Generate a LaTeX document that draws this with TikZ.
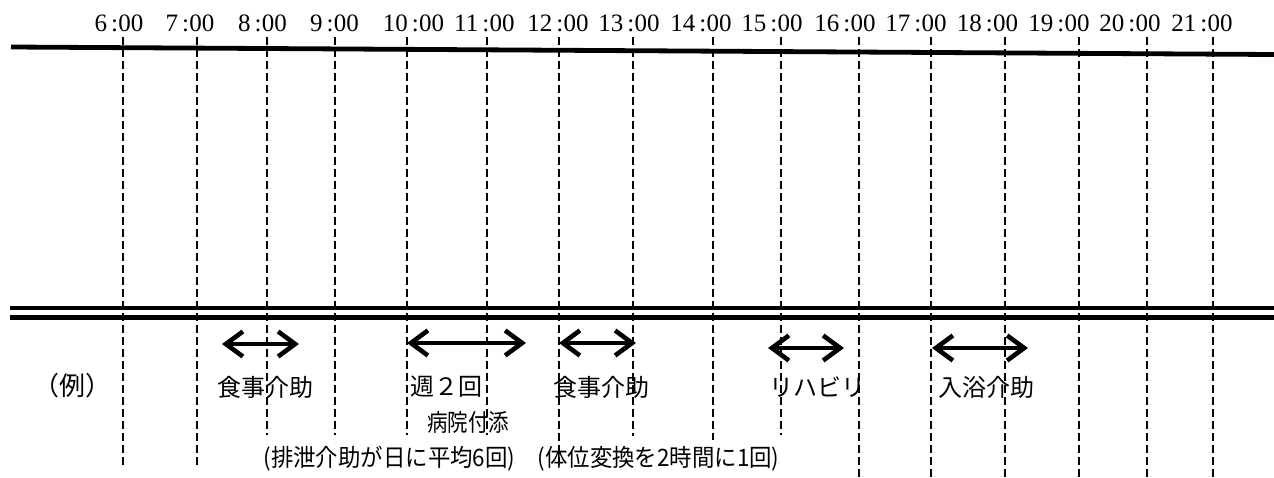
\documentclass[tikz,border=0pt]{standalone}
\usepackage{fontspec}
\usepackage{graphicx}
\usetikzlibrary{arrows.meta}
\newfontfamily\cjk{Noto Sans CJK JP}
\newfontfamily\tfont{Liberation Serif}
\begin{document}
\begin{tikzpicture}[x=1pt,y=-1pt,
  vline/.style={line width=2pt, dash pattern=on 7.5pt off 4.5pt},
  cjklabel/.style={font=\cjk\fontsize{24pt}{28pt}\selectfont, inner sep=0pt},
  timelabel/.style={font=\tfont\fontsize{25pt}{29pt}\selectfont, inner sep=0pt, anchor=base},
  span/.style={line width=4.2pt, line join=round, line cap=round,
    {Straight Barb[length=17pt,width=25pt,line width=4.6pt]}-{Straight Barb[length=17pt,width=25pt,line width=4.6pt]}},
  thickline/.style={line width=4.8pt}
]
\useasboundingbox (0,0) rectangle (1274,477);

% time labels
\foreach \n/\cx in {6/119, 7/190, 8/262.5, 9/334.5, 10/413.5, 11/484.5, 12/558, 13/629, 14/701, 15/772, 16/845, 17/916, 18/987.5, 19/1059, 20/1130, 21/1202}{
  \node[timelabel] (t\n) at (\cx,31.5) {\n\kern4pt:\kern0.5pt00};
}

% top line
\coordinate (tl) at (11,47);
\coordinate (tr) at (1274,54.5);
\draw[thickline] (tl) -- (tr);

% double line
\coordinate (d1l) at (10,308.3);
\coordinate (d1r) at (1274,308.3);
\coordinate (d2l) at (10,317.2);
\coordinate (d2r) at (1274,317.2);
\draw[line width=4pt] (d1l) -- (d1r);
\draw[line width=5pt] (d2l) -- (d2r);

% dashed hour lines
\foreach \n/\x/\e in {6/123/465, 7/197/465, 8/267/435, 9/335/435, 10/407/435, 11/487/435, 12/559/465, 13/633/436, 14/713/440, 15/781/435, 16/859/477, 17/931/477, 18/1005/477, 19/1079/477, 20/1147/477, 21/1213/477}{
  \coordinate (v\n a) at (\x,37);
  \coordinate (v\n b) at (\x,\e);
  \draw[vline] (v\n a) -- (v\n b);
}

% arrows
\coordinate (a1l) at (222,344); \coordinate (a1r) at (299,344);
\coordinate (a2l) at (407,343); \coordinate (a2r) at (526,343);
\coordinate (a3l) at (559,343); \coordinate (a3r) at (636,343);
\coordinate (a4l) at (768,348); \coordinate (a4r) at (844,348);
\coordinate (a5l) at (932,348); \coordinate (a5r) at (1028,348);
\draw[span] (a1l) -- (a1r);
\draw[span] (a2l) -- (a2r);
\draw[span] (a3l) -- (a3r);
\draw[span] (a4l) -- (a4r);
\draw[span] (a5l) -- (a5r);

% labels
\node[cjklabel, font=\cjk\fontsize{26pt}{30pt}\selectfont] (ex) at (72.5,386) {（例）};
\node[cjklabel] (l1) at (265.5,387) {食事介助};
\node[cjklabel] (l2) at (446,387) {週２回};
\node[cjklabel] (l3) at (468,422) {\resizebox{82pt}{\height}{病院付添}};
\node[cjklabel] (l4) at (601.5,387) {食事介助};
\node[cjklabel] (l5) at (817.5,387) {リハビリ};
\node[cjklabel] (l6) at (986,387) {入浴介助};
\node[cjklabel] (l7) at (521.5,459) {\resizebox{516pt}{\height}{(排泄介助が日に平均6回)　(体位変換を2時間に1回)}};
\end{tikzpicture}
\end{document}
